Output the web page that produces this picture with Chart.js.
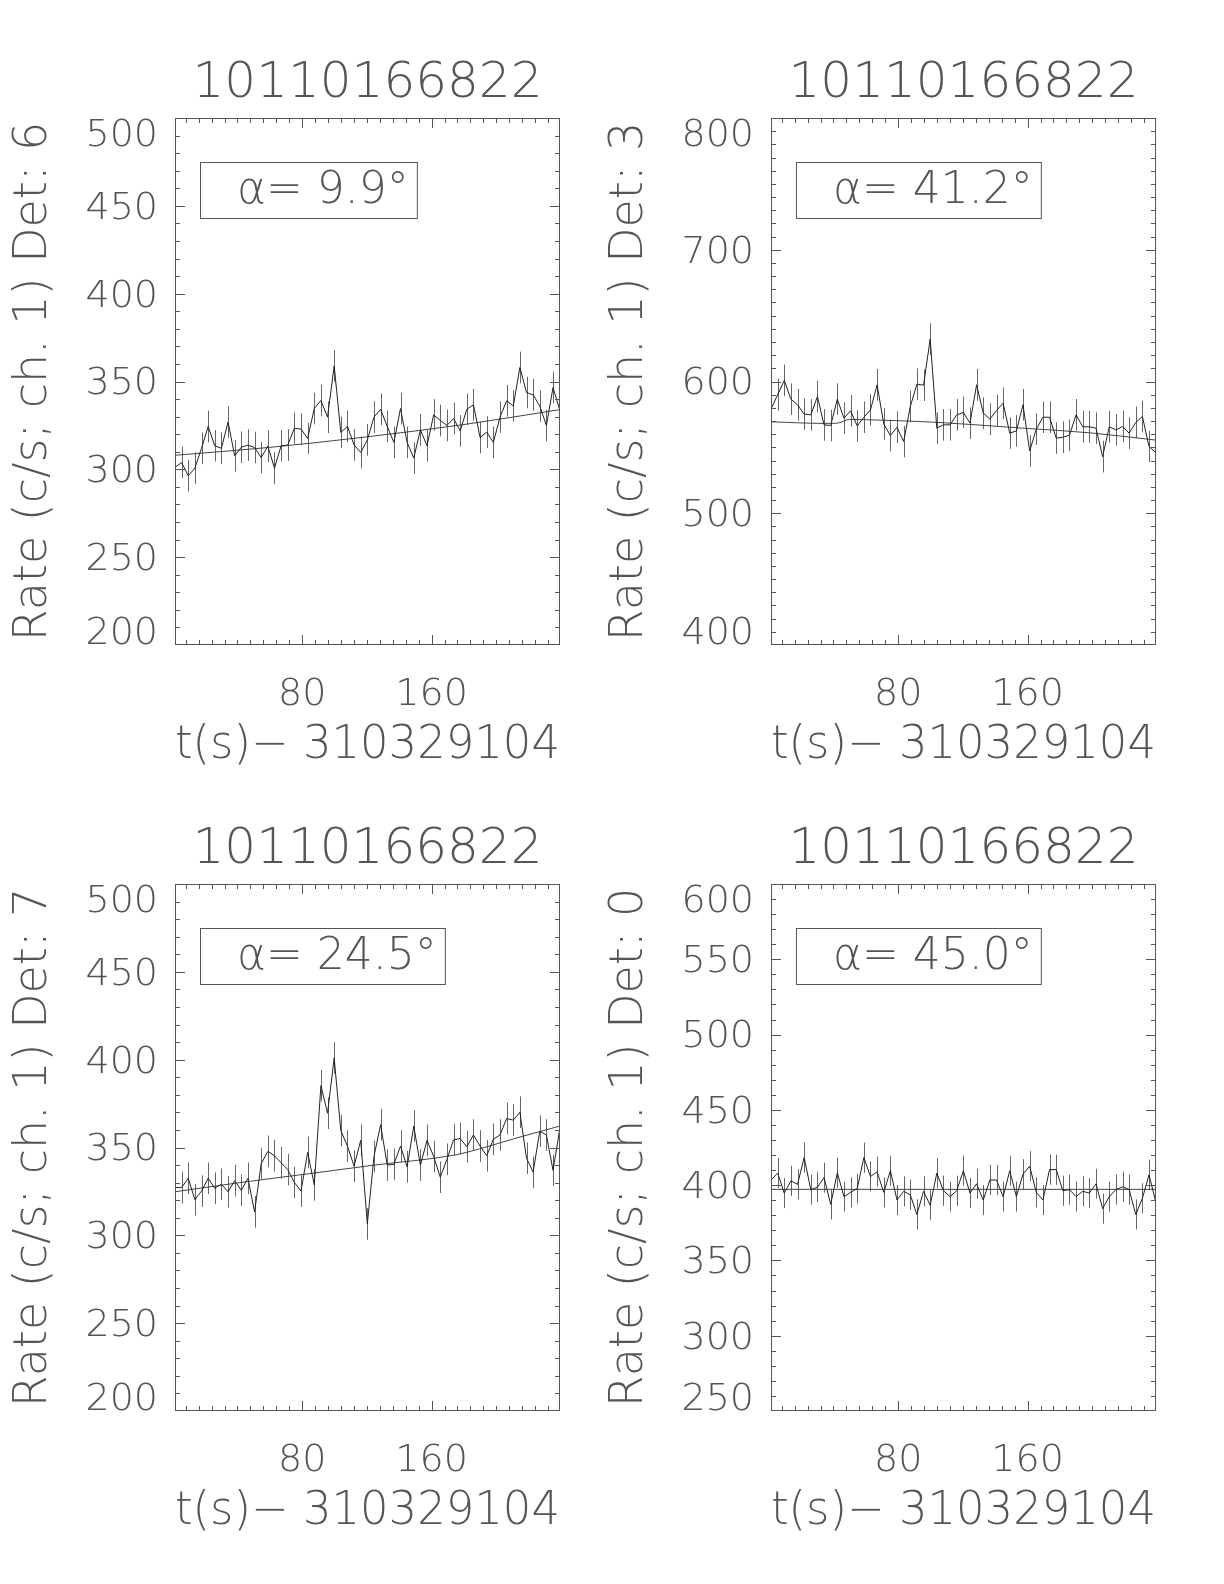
<!DOCTYPE html>
<html>
<head>
<meta charset="utf-8">
<script src="https://cdn.jsdelivr.net/npm/chart.js@4.4.0/dist/chart.umd.min.js"></script>
<style>
  body { margin: 0; background: #fff; width: 1224px; height: 1584px; position: relative; overflow: hidden; }
  canvas { position: absolute; }
</style>
</head>
<body>
<canvas id="det6" width="612" height="766" style="left:0px;top:0px"></canvas>
<canvas id="det3" width="612" height="766" style="left:596px;top:0px"></canvas>
<canvas id="det7" width="612" height="766" style="left:0px;top:766px"></canvas>
<canvas id="det0" width="612" height="766" style="left:596px;top:766px"></canvas>
<script>
// time bins, t(s) - 310329104
const times = [1.4, 5.5, 9.6, 13.7, 17.8, 21.9, 26.0, 30.1, 34.2, 38.3, 42.4, 46.5, 50.6, 54.7, 58.8,
  62.9, 67.0, 71.1, 75.2, 79.3, 83.4, 87.5, 91.6, 95.7, 99.8, 103.9, 108.0, 112.1, 116.2, 120.3,
  124.4, 128.5, 132.6, 136.7, 140.8, 144.9, 149.0, 153.1, 157.2, 161.3, 165.4, 169.5, 173.6, 177.7,
  181.8, 185.9, 190.0, 194.1, 198.2, 202.3, 206.4, 210.5, 214.6, 218.7, 222.8, 226.9, 231.0, 235.1, 239.2];
const xMin = 1.4, xMax = 239.4;
const xTickLabels = [80, 160];

// Det 6
const rateDet6 = [301.2, 303.9, 296.3, 300.7, 312.0, 324.4, 313.4, 312.0, 326.9, 307.7, 312.6, 313.8, 312.4, 306.7, 313.2,
  300.7, 313.4, 313.8, 323.4, 322.9, 317.6, 334.6, 339.2, 329.7, 358.9, 321.0, 324.4, 313.9, 309.6, 316.8,
  329.7, 334.2, 324.4, 315.3, 334.6, 315.3, 306.4, 322.5, 313.4, 331.0, 327.8, 325.0, 328.9, 321.9, 334.2,
  336.7, 318.1, 321.2, 315.3, 329.7, 339.0, 336.1, 358.0, 343.7, 342.4, 336.0, 325.0, 346.6, 333.9];
const errDet6 = 9;
const fitTimeDet6 = [1.4, 60, 120, 180, 239.4];
const fitRateDet6 = [308, 312.5, 318.5, 325.5, 334];
const yTicksDet6 = [200, 250, 300, 350, 400, 450, 500];

// Det 3
const rateDet3 = [579.0, 589.9, 600.8, 586.6, 582.3, 575.2, 574.7, 588.6, 567.1, 566.6, 586.6, 572.2, 577.7, 566.3, 572.9,
  578.5, 597.5, 567.8, 559.0, 565.3, 554.4, 581.0, 598.0, 597.2, 632.2, 564.6, 567.1, 567.1, 574.7, 576.5,
  568.4, 597.5, 576.0, 571.4, 578.0, 583.5, 560.8, 562.5, 582.3, 547.3, 563.8, 572.9, 572.9, 557.0, 557.7,
  559.2, 574.7, 565.6, 565.6, 564.6, 543.0, 565.6, 563.3, 565.8, 560.8, 568.9, 573.4, 550.6, 546.1];
const errDet3 = 12;
const fitTimeDet3 = [1.4, 34, 42, 50, 71, 104, 158, 199, 239.4];
const fitRateDet3 = [569.4, 568.2, 568.3, 571.2, 570.6, 569.0, 564.5, 561.0, 555.5];
const yTicksDet3 = [400, 500, 600, 700, 800];

// Det 7
const rateDet7 = [327.2, 327.2, 332.5, 320.3, 325.2, 332.5, 326.8, 329.1, 324.8, 331.1, 325.6, 332.5, 313.4, 340.9, 347.8,
  345.3, 341.3, 337.4, 330.1, 325.2, 347.2, 328.7, 385.2, 369.5, 401.0, 359.6, 350.8, 339.4, 354.1, 306.5,
  344.9, 363.0, 340.0, 340.4, 350.8, 339.0, 362.2, 340.0, 354.1, 344.9, 333.1, 343.3, 354.3, 355.1, 350.4,
  357.1, 350.8, 345.3, 354.7, 357.1, 366.5, 365.6, 370.1, 343.9, 336.0, 359.3, 357.1, 337.0, 360.2];
const errDet7 = 9;
const fitTimeDet7 = [1.4, 42.2, 83.5, 124.7, 174.2, 189.6, 211.3, 239.4];
const fitRateDet7 = [324.8, 330.1, 335.0, 340.0, 345.7, 349.2, 355.1, 362.2];
const yTicksDet7 = [200, 250, 300, 350, 400, 450, 500];

// Det 0
const rateDet0 = [403.4, 408.0, 394.7, 402.8, 400.5, 418.3, 397.0, 398.6, 405.0, 387.2, 408.3, 392.4, 395.2, 397.7, 418.3,
  405.7, 408.9, 395.2, 409.6, 390.1, 395.9, 393.6, 380.5, 395.9, 386.7, 408.0, 396.3, 392.4, 396.3, 409.6,
  394.7, 400.9, 390.1, 403.4, 403.4, 392.4, 409.6, 392.4, 407.3, 412.6, 395.2, 390.1, 410.3, 410.3, 396.3,
  397.0, 392.4, 395.9, 394.7, 400.9, 384.4, 392.4, 397.0, 398.9, 397.0, 380.5, 391.3, 406.9, 389.0];
const errDet0 = 10;
const fitTimeDet0 = [1.4, 239.4];
const fitRateDet0 = [397.2, 397.2];
const yTicksDet0 = [250, 300, 350, 400, 450, 500, 550, 600];

const panels = [
  { id: 'det6', det: 6, alpha: '9.9', rate: rateDet6, err: errDet6, fitT: fitTimeDet6, fitV: fitRateDet6, yTicks: yTicksDet6 },
  { id: 'det3', det: 3, alpha: '41.2', rate: rateDet3, err: errDet3, fitT: fitTimeDet3, fitV: fitRateDet3, yTicks: yTicksDet3 },
  { id: 'det7', det: 7, alpha: '24.5', rate: rateDet7, err: errDet7, fitT: fitTimeDet7, fitV: fitRateDet7, yTicks: yTicksDet7 },
  { id: 'det0', det: 0, alpha: '45.0', rate: rateDet0, err: errDet0, fitT: fitTimeDet0, fitV: fitRateDet0, yTicks: yTicksDet0 }
];

const FONT = '"DejaVu Sans ExtraLight", "DejaVu Sans", sans-serif';
const INK = '#555';

// IDL-like frame: inward ticks on all four sides, error bars, alpha box
const idlPlot = {
  id: 'idlPlot',
  beforeDraw(chart) {
    // keep the end labels inside the axis range
    const items = chart.scales.y.getLabelItems(chart.chartArea);
    if (!items._shifted && items.length) {
      items[0].options.translation[1] -= 14;
      items[items.length - 1].options.translation[1] += 15;
      items._shifted = true;
    }
  },
  beforeDatasetsDraw(chart) {
    const p = chart.options.plugins.idlPlot;
    const xs = chart.scales.x, ys = chart.scales.y;
    const ctx = chart.ctx;
    const { left, right, top, bottom } = chart.chartArea;
    ctx.save();
    ctx.beginPath();
    ctx.rect(left, top, right - left, bottom - top);
    ctx.clip();
    ctx.strokeStyle = '#666';
    ctx.lineWidth = 1;
    ctx.beginPath();
    times.forEach((t, i) => {
      const x = Math.round(xs.getPixelForValue(t)) + 0.5;
      ctx.moveTo(x, ys.getPixelForValue(p.rate[i] - p.err));
      ctx.lineTo(x, ys.getPixelForValue(p.rate[i] + p.err));
    });
    ctx.stroke();
    ctx.restore();
  },
  afterDraw(chart) {
    const p = chart.options.plugins.idlPlot;
    const xs = chart.scales.x, ys = chart.scales.y;
    const ctx = chart.ctx;
    const L = Math.round(chart.chartArea.left), R = Math.round(chart.chartArea.right);
    const T = Math.round(chart.chartArea.top), B = Math.round(chart.chartArea.bottom);
    ctx.save();
    ctx.strokeStyle = '#555';
    ctx.lineWidth = 1;
    ctx.strokeRect(L + 0.5, T + 0.5, R - L - 1, B - T - 1);
    ctx.beginPath();
    for (let v = 8; v < xMax; v += 8) {
      const x = Math.round(xs.getPixelForValue(v)) + 0.5;
      const len = v % 80 === 0 ? 10 : 5;
      ctx.moveTo(x, B); ctx.lineTo(x, B - len);
      ctx.moveTo(x, T); ctx.lineTo(x, T + len);
    }
    const yMin = p.yTicks[0], yMax = p.yTicks[p.yTicks.length - 1];
    const major = p.yTicks[1] - p.yTicks[0];
    for (let v = yMin + 10; v < yMax; v += 10) {
      const y = Math.round(ys.getPixelForValue(v)) + 0.5;
      const len = (v - yMin) % major === 0 ? 10 : 5;
      ctx.moveTo(L, y); ctx.lineTo(L + len, y);
      ctx.moveTo(R, y); ctx.lineTo(R - len, y);
    }
    ctx.stroke();

    // alpha label box
    const txt = 'α= ' + p.alpha + '°';
    ctx.font = '200 44px ' + FONT;
    const w = ctx.measureText(txt).width;
    const bx = L + 25, by = T + 44, bh = 56;
    ctx.strokeRect(bx + 0.5, by + 0.5, 37 + w + 8, bh);
    ctx.fillStyle = INK;
    ctx.textBaseline = 'middle';
    ctx.fillText(txt, bx + 37, by + bh / 2 + 2);
    ctx.restore();
  }
};

panels.forEach(p => {
  const ctx = document.getElementById(p.id).getContext('2d');
  new Chart(ctx, {
    type: 'line',
    data: {
      datasets: [{
        data: times.map((t, i) => ({ x: t, y: p.rate[i] })),
        borderColor: '#222',
        borderWidth: 1,
        pointRadius: 0,
        tension: 0
      }, {
        data: p.fitT.map((t, i) => ({ x: t, y: p.fitV[i] })),
        borderColor: '#444',
        borderWidth: 1,
        pointRadius: 0,
        cubicInterpolationMode: 'monotone'
      }]
    },
    options: {
      responsive: false,
      animation: false,
      layout: { padding: { left: 0, right: 52, top: 0, bottom: 0 } },
      plugins: {
        legend: { display: false },
        tooltip: { enabled: false },
        title: {
          display: true,
          fullSize: false,
          text: '10110166822',
          color: INK,
          font: { family: FONT, size: 50, weight: 200, lineHeight: 1.2 },
          padding: { top: 54, bottom: 4 }
        },
        idlPlot: p
      },
      scales: {
        x: {
          type: 'linear',
          min: xMin,
          max: xMax,
          grid: { display: false, drawTicks: false },
          border: { display: false },
          afterBuildTicks: s => { s.ticks = xTickLabels.map(v => ({ value: v })); },
          afterFit: s => { s.height = 121; },
          ticks: { color: INK, padding: 27, maxRotation: 0, font: { family: FONT, size: 38, weight: 200, lineHeight: 1.2 } },
          title: {
            display: true,
            text: 't(s)− 310329104',
            color: INK,
            font: { family: FONT, size: 46, weight: 200, lineHeight: 0.85 },
            padding: { top: 0, bottom: 0 }
          }
        },
        y: {
          min: p.yTicks[0],
          max: p.yTicks[p.yTicks.length - 1],
          grid: { display: false, drawTicks: false },
          border: { display: false },
          afterBuildTicks: s => { s.ticks = p.yTicks.map(v => ({ value: v })); },
          afterFit: s => { s.width = 175; },
          ticks: { color: INK, padding: 17, labelOffset: 3, font: { family: FONT, size: 38, weight: 200, lineHeight: 1.2 } },
          title: {
            display: true,
            text: 'Rate (c/s; ch. 1) Det: ' + p.det,
            color: INK,
            font: { family: FONT, size: 46, weight: 200, lineHeight: 1.2 },
            padding: { top: 6, bottom: 0 }
          }
        }
      }
    },
    plugins: [idlPlot]
  });
});
</script>
</body>
</html>
